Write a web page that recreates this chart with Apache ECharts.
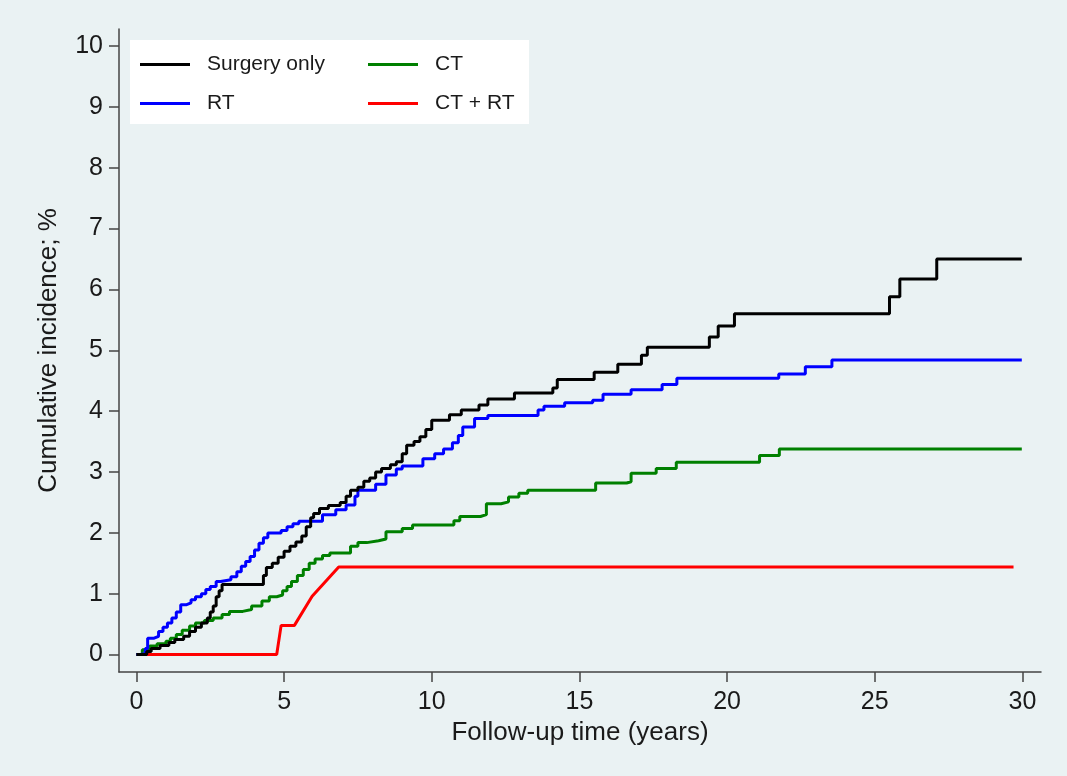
<!DOCTYPE html>
<html><head><meta charset="utf-8">
<script src="https://cdn.jsdelivr.net/npm/echarts@6/dist/echarts.min.js"></script>
<style>html,body{margin:0;padding:0;background:#eaf2f3;}#c{width:1067px;height:776px;}</style>
</head><body><div id="c"></div>
<script>
const seriesNames = ['Surgery only', 'RT', 'CT', 'CT + RT'];
const xTicks = [0, 5, 10, 15, 20, 25, 30];
const yTicks = [0, 1, 2, 3, 4, 5, 6, 7, 8, 9, 10];

const surgeryOnly = [[0,0],[0.35,0.05],[0.5,0.1],[0.8,0.15],[1.1,0.2],[1.3,0.25],[1.6,0.3],[1.8,0.38],[2.0,0.45],[2.2,0.52],[2.4,0.6],[2.5,0.7],[2.6,0.8],[2.7,0.95],[2.8,1.05],[2.9,1.15],[4.3,1.3],[4.4,1.43],[4.6,1.5],[4.8,1.6],[5.0,1.7],[5.2,1.78],[5.4,1.85],[5.6,1.95],[5.75,2.1],[5.9,2.25],[6.0,2.32],[6.2,2.4],[6.5,2.45],[6.9,2.5],[7.1,2.6],[7.25,2.7],[7.5,2.75],[7.7,2.85],[7.9,2.9],[8.1,3.0],[8.3,3.06],[8.6,3.12],[8.8,3.17],[9.0,3.3],[9.15,3.44],[9.4,3.5],[9.6,3.58],[9.8,3.7],[10.0,3.85],[10.6,3.94],[11.0,4.02],[11.6,4.1],[11.9,4.2],[12.8,4.3],[14.1,4.38],[14.25,4.52],[15.5,4.64],[16.3,4.77],[17.1,4.92],[17.3,5.05],[19.4,5.22],[19.7,5.4],[20.25,5.6],[25.5,5.88],[25.85,6.17],[27.1,6.5],[29.98,6.5]];

const rt = [[0,0],[0.1,0.02],[0.3,0.1],[0.38,0.27],[0.6,0.3],[0.75,0.38],[0.9,0.45],[1.05,0.52],[1.2,0.6],[1.35,0.7],[1.5,0.82],[1.7,0.85],[1.85,0.9],[2.0,0.95],[2.2,1.0],[2.35,1.07],[2.5,1.12],[2.7,1.2],[2.85,1.23],[3.2,1.28],[3.4,1.36],[3.55,1.45],[3.7,1.53],[3.85,1.61],[4.0,1.72],[4.15,1.83],[4.3,1.92],[4.45,2.0],[4.9,2.04],[5.1,2.1],[5.3,2.15],[5.5,2.19],[6.3,2.3],[6.75,2.38],[7.1,2.46],[7.4,2.6],[7.5,2.7],[8.1,2.8],[8.45,2.95],[8.8,3.05],[9.0,3.1],[9.7,3.22],[10.1,3.3],[10.4,3.38],[10.7,3.48],[10.9,3.6],[11.05,3.74],[11.45,3.88],[11.9,3.93],[13.6,4.02],[13.8,4.08],[14.5,4.14],[15.45,4.18],[15.8,4.28],[16.75,4.35],[17.8,4.44],[18.3,4.54],[21.75,4.61],[22.65,4.73],[23.55,4.84],[29.98,4.84]];

const ct = [[0,0],[0.2,0.08],[0.45,0.14],[0.7,0.18],[1.0,0.22],[1.15,0.27],[1.35,0.33],[1.55,0.4],[1.8,0.47],[2.0,0.52],[2.3,0.56],[2.6,0.6],[2.9,0.66],[3.15,0.71],[3.6,0.74],[3.9,0.8],[4.25,0.88],[4.5,0.95],[4.75,0.98],[4.95,1.05],[5.1,1.12],[5.25,1.2],[5.45,1.3],[5.65,1.4],[5.85,1.5],[6.05,1.57],[6.3,1.63],[6.55,1.67],[7.25,1.78],[7.5,1.84],[7.8,1.87],[8.2,1.9],[8.45,2.02],[9.0,2.07],[9.35,2.13],[10.75,2.2],[10.95,2.27],[11.65,2.3],[11.85,2.48],[12.35,2.51],[12.6,2.59],[12.95,2.65],[13.25,2.7],[15.55,2.82],[16.6,2.84],[16.75,2.98],[17.6,3.06],[18.28,3.16],[21.1,3.27],[21.77,3.38],[29.98,3.38]];

const ctRt = [[0,0],[4.75,0],[4.9,0.48],[5.35,0.48],[5.95,0.96],[6.85,1.44],[29.7,1.44]];

const colors = ['#000000', '#0000ff', '#008000', '#ff0000'];
const font = '"Liberation Sans", Arial, sans-serif';

const chart = echarts.init(document.getElementById('c'), null, {renderer: 'canvas'});
const axisCommon = {
  type: 'value',
  axisLine: {show: true, onZero: false, lineStyle: {color: '#444', width: 1.5}},
  axisTick: {show: true, length: 10, lineStyle: {color: '#444', width: 1.5}},
  splitLine: {show: false},
  nameLocation: 'middle',
  nameTextStyle: {fontFamily: font, fontSize: 26, color: '#1a1a1a'}
};
function mk(name, data, i, step) {
  return {name, type: 'line', data, step: step ? 'end' : false, symbol: 'none', showSymbol: false,
    lineStyle: {color: colors[i], width: 3}, itemStyle: {color: colors[i]}, animation: false, z: 3 + (3 - i)};
}
const legendCommon = {orient: 'vertical', top: 54, padding: 0, icon: 'rect',
  itemWidth: 50, itemHeight: 3, itemGap: 18, z: 10,
  textStyle: {fontFamily: font, fontSize: 21, color: '#1a1a1a', padding: [0, 0, 0, 12], lineHeight: 21}};
chart.setOption({
  backgroundColor: '#eaf2f3',
  animation: false,
  grid: {left: 119, right: 26, top: 29, bottom: 104, containLabel: false},
  xAxis: Object.assign({}, axisCommon, {
    min: -0.59, max: 30.63,
    name: 'Follow-up time (years)', nameGap: 45,
    axisTick: Object.assign({}, axisCommon.axisTick, {customValues: xTicks}),
    axisLabel: {customValues: xTicks, fontFamily: font, fontSize: 25, color: '#1a1a1a', margin: 18}
  }),
  yAxis: Object.assign({}, axisCommon, {
    min: -0.286, max: 10.28,
    name: 'Cumulative incidence; %', nameGap: 57, nameRotate: 90,
    axisTick: Object.assign({}, axisCommon.axisTick, {customValues: yTicks}),
    axisLabel: {customValues: yTicks, fontFamily: font, fontSize: 25, color: '#1a1a1a', margin: 16}
  }),
  graphic: [{type: 'rect', left: 130, top: 40, shape: {width: 399, height: 84}, style: {fill: '#ffffff'}, z: 1}],
  legend: [
    Object.assign({}, legendCommon, {data: ['Surgery only', 'RT'], left: 140}),
    Object.assign({}, legendCommon, {data: ['CT', 'CT + RT'], left: 368})
  ],
  series: [
    mk(seriesNames[0], surgeryOnly, 0, true),
    mk(seriesNames[1], rt, 1, true),
    mk(seriesNames[2], ct, 2, true),
    mk(seriesNames[3], ctRt, 3, false)
  ]
});
</script></body></html>
